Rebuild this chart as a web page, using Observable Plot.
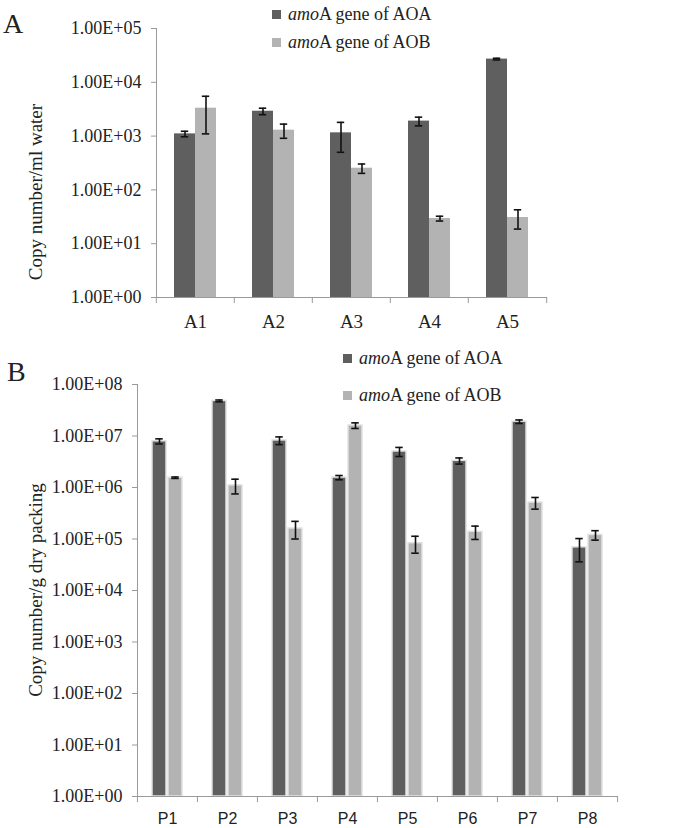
<!DOCTYPE html>
<html><head><meta charset="utf-8">
<script src="https://cdn.jsdelivr.net/npm/d3@7"></script>
<script src="https://cdn.jsdelivr.net/npm/@observablehq/plot@0.6"></script>
<style>
body{margin:0;background:#fff;}
#wrap{position:relative;width:691px;height:828px;font-family:"Liberation Serif",serif;color:#222;overflow:hidden;}
.panel{position:absolute;left:0;}
.panel svg{display:block;}
.lab{position:absolute;font-size:28px;line-height:1;}
.leg{position:absolute;font-size:18px;line-height:20px;height:20px;white-space:nowrap;display:flex;align-items:center;}
.sw{display:inline-block;width:9px;height:9px;margin-right:7px;}
.ytitle{position:absolute;font-size:19px;white-space:nowrap;transform:translate(-50%,-50%) rotate(-90deg);}
</style>
</head><body>
<div id="wrap"></div>
<script>
// ---- Panel A: water samples ----
const sitesA = ["A1","A2","A3","A4","A5"];
const aoaA = [1100, 2900, 1150, 1900, 27000];
const aoaAErr = [130, 400, 650, 350, 1000];
const aobA = [3300, 1290, 253, 29.4, 30.7];
const aobAErr = [2200, 380, 50, 3, 12];
const yTicksA = [1, 10, 100, 1000, 1e4, 1e5];
const yLabelsA = ["1.00E+00","1.00E+01","1.00E+02","1.00E+03","1.00E+04","1.00E+05"];

// ---- Panel B: packing samples ----
const sitesB = ["P1","P2","P3","P4","P5","P6","P7","P8"];
const aoaB = [7.9e6, 4.8e7, 8.2e6, 1.56e6, 5.0e6, 3.3e6, 1.9e7, 6.9e4];
const aoaBErr = [0.9e6, 2e6, 1.4e6, 1.5e5, 1.0e6, 0.45e6, 1.5e6, 3.3e4];
const aobB = [1.55e6, 1.1e6, 1.6e5, 1.6e7, 8.3e4, 1.38e5, 5.1e5, 1.2e5];
const aobBErr = [0.05e6, 0.35e6, 6e4, 2e6, 3e4, 4e4, 1.3e5, 2.5e4];
const yTicksB = [1, 10, 100, 1e3, 1e4, 1e5, 1e6, 1e7, 1e8];
const yLabelsB = ["1.00E+00","1.00E+01","1.00E+02","1.00E+03","1.00E+04","1.00E+05","1.00E+06","1.00E+07","1.00E+08"];

const seriesNames = ["AOA", "AOB"];
const seriesColors = ["#5f5f5f", "#b3b3b3"];
const legendText = ["A gene of AOA", "A gene of AOB"];

function makePanel(o) {
  const rows = o.sites.flatMap((s, i) => [
    {site: s, series: "AOA", v: o.aoa[i], e: o.aoaErr[i]},
    {site: s, series: "AOB", v: o.aob[i], e: o.aobErr[i]}
  ]);
  const W = 691;
  const bw = (W - o.ml - o.mr) / o.sites.length;
  const step = bw / (2 + 2 * o.po);
  const capInset = (step - 8) / 2;
  const axisGray = "#9a9a9a";
  return Plot.plot({
    width: W, height: o.height,
    marginTop: o.mt, marginBottom: o.mb, marginLeft: o.ml, marginRight: o.mr,
    style: {fontFamily: "Liberation Serif", fontSize: "18px", color: "#222", background: "white"},
    fx: {domain: o.sites, paddingInner: 0, paddingOuter: 0, label: null},
    x: {domain: seriesNames, paddingInner: 0, paddingOuter: o.po, axis: null},
    y: {type: "log", domain: [o.yTicks[0], o.yTicks[o.yTicks.length - 1]], label: null},
    color: {domain: seriesNames, range: seriesColors},
    marks: [
      Plot.barY(rows, {fx: "site", x: "series", y1: o.yTicks[0], y2: "v", fill: "series",
        stroke: o.barStroke, strokeWidth: o.barStroke ? 1.5 : 0, insetLeft: o.inset, insetRight: o.inset}),
      Plot.ruleX(rows, {fx: "site", x: "series", y1: d => d.v - d.e, y2: d => d.v + d.e, stroke: "#111", strokeWidth: 1.6}),
      Plot.tickY(rows, {fx: "site", x: "series", y: d => d.v + d.e, stroke: "#111", strokeWidth: 1.6, insetLeft: capInset, insetRight: capInset}),
      Plot.tickY(rows, {fx: "site", x: "series", y: d => d.v - d.e, stroke: "#111", strokeWidth: 1.6, insetLeft: capInset, insetRight: capInset}),
      Plot.frame({anchor: "left", facet: "super", stroke: axisGray}),
      Plot.frame({anchor: "bottom", facet: "super", stroke: axisGray}),
      Plot.axisY({ticks: o.yTicks, tickFormat: d => o.yLabels[o.yTicks.indexOf(d)], tickSize: 5, tickPadding: 10,
        stroke: axisGray, fill: "#222", label: null, fontSize: 18}),
      Plot.axisFx({anchor: "bottom", tickSize: 0, tickPadding: o.xPad, label: null, fill: "#222", fontFamily: o.xFont, fontSize: o.xFontSize}),
      Plot.axisFx({anchor: "bottom", tickSize: 6, tickFormat: () => "", dx: -bw / 2, stroke: axisGray, label: null}),
      Plot.axisFx({anchor: "bottom", ticks: [o.sites[o.sites.length - 1]], tickSize: 6, tickFormat: () => "", dx: bw / 2, stroke: axisGray, label: null})
    ]
  });
}

const wrap = document.getElementById("wrap");

function addPanel(top, plot) {
  const d = document.createElement("div");
  d.className = "panel";
  d.style.top = top + "px";
  d.appendChild(plot);
  wrap.appendChild(d);
}

addPanel(0, makePanel({
  sites: sitesA, aoa: aoaA, aoaErr: aoaAErr, aob: aobA, aobErr: aobAErr,
  yTicks: yTicksA, yLabels: yLabelsA,
  height: 345, mt: 28, mb: 48, ml: 155, mr: 144, po: 0.815, inset: 0, barStroke: null,
  xFont: "Liberation Serif", xFontSize: 19, xPad: 17
}));

addPanel(345, makePanel({
  sites: sitesB, aoa: aoaB, aoaErr: aoaBErr, aob: aobB, aobErr: aobBErr,
  yTicks: yTicksB, yLabels: yLabelsB,
  height: 483, mt: 39, mb: 32, ml: 136, mr: 74, po: 0.82, inset: 1, barStroke: "#e2e2e2",
  xFont: "Liberation Sans", xFontSize: 16, xPad: 16
}));

function addText(cls, text, left, top) {
  const d = document.createElement("div");
  d.className = cls;
  d.textContent = text;
  d.style.left = left + "px";
  d.style.top = top + "px";
  wrap.appendChild(d);
  return d;
}
addText("lab", "A", 3, 10);
addText("lab", "B", 7, 358);
addText("ytitle", "Copy number/ml water", 36, 192);
addText("ytitle", "Copy number/g dry packing", 36, 590);

function addLegend(x, ys) {
  seriesNames.forEach((s, i) => {
    const d = document.createElement("div");
    d.className = "leg";
    d.style.left = x + "px";
    d.style.top = (ys[i] - 10) + "px";
    const sw = document.createElement("span");
    sw.className = "sw";
    sw.style.background = seriesColors[i];
    d.appendChild(sw);
    const it = document.createElement("i");
    it.textContent = "amo";
    d.appendChild(it);
    d.appendChild(document.createTextNode(legendText[i]));
    wrap.appendChild(d);
  });
}
addLegend(272, [14, 42]);
addLegend(343, [358, 395]);
</script>
</body></html>
